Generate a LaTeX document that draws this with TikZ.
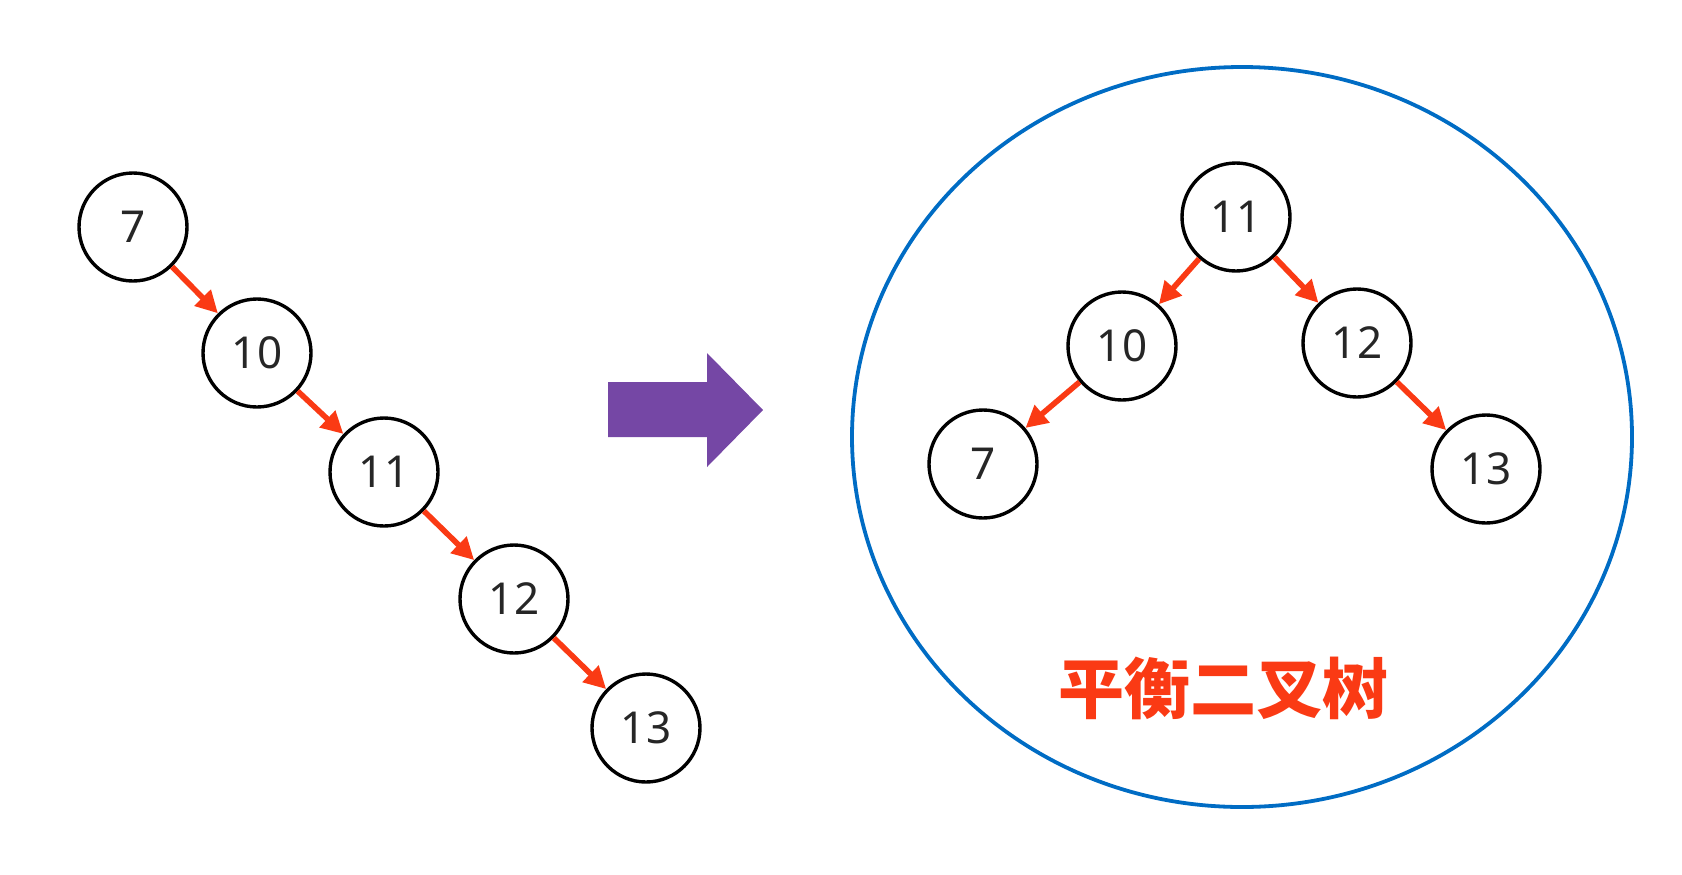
\documentclass[tikz,border=0pt]{standalone}
\usepackage{fontspec}
\setmainfont{Noto Sans}
\newfontfamily\cjk{Noto Sans CJK SC}
\usetikzlibrary{arrows.meta}
\definecolor{edgered}{RGB}{250,58,20}
\definecolor{arrowpurple}{RGB}{117,71,165}
\definecolor{ringblue}{RGB}{0,108,196}
\begin{document}
\begin{tikzpicture}[x=0.5pt,y=-0.5pt,
  key/.style={draw,circle,line width=1.7pt,minimum size=54pt,inner sep=0pt,
    font=\fontsize{22}{26}\selectfont,text=black!85},
  link/.style={edgered,line width=2.8pt,-{Triangle[length=11pt,width=11pt]}}]
  \useasboundingbox (0,0) rectangle (1682,874);

  % before: a chain
  \node[key] (a7)  at (133,227) {7};
  \node[key] (a10) at (257,353) {10};
  \node[key] (a11) at (384,472) {11};
  \node[key] (a12) at (514,599) {12};
  \node[key] (a13) at (646,728) {13};
  \draw[link] (a7) -- (a10);
  \draw[link] (a10) -- (a11);
  \draw[link] (a11) -- (a12);
  \draw[link] (a12) -- (a13);

  % the big arrow
  \fill[arrowpurple] (608,382) -- (707,382) -- (707,353) -- (763,410)
    -- (707,467) -- (707,437) -- (608,437) -- cycle;

  % after: balanced
  \draw[ringblue,line width=1.9pt] (1242,437) ellipse [x radius=390,y radius=370];
  \node[key] (b11) at (1236,217) {11};
  \node[key] (b10) at (1122,346) {10};
  \node[key] (b12) at (1357,343) {12};
  \node[key] (b7)  at (983,464) {7};
  \node[key] (b13) at (1486,469) {13};
  \draw[link] (b11) -- (b10);
  \draw[link] (b11) -- (b12);
  \draw[link] (b10) -- (b7);
  \draw[link] (b12) -- (b13);
  \node[text=edgered,font=\cjk\bfseries\fontsize{33}{36}\selectfont] (name) at (1223,688) {平衡二叉树};
\end{tikzpicture}
\end{document}
